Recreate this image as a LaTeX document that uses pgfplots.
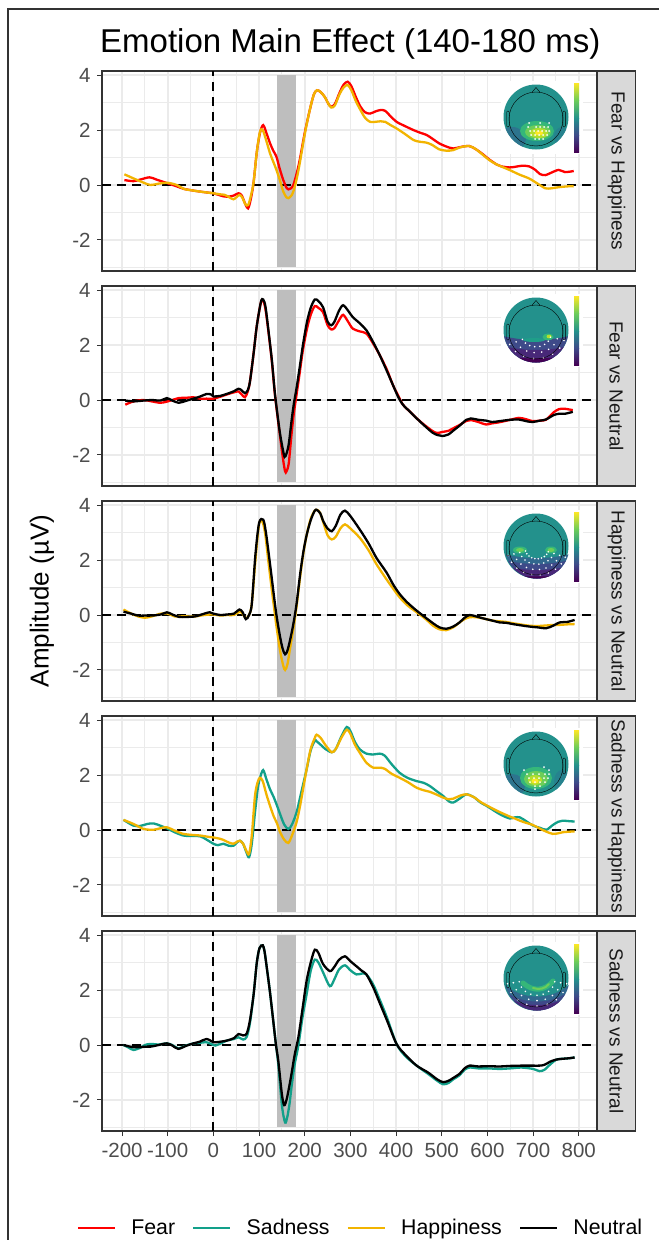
\documentclass[border=0pt]{standalone}
\usepackage{pgfplots}
\pgfplotsset{compat=1.18}
\usepackage{fontspec}
\setmainfont{Liberation Sans}
\definecolor{fearc}{HTML}{FF0000}
\definecolor{sadc}{HTML}{12A08A}
\definecolor{hapc}{HTML}{F2B400}
\definecolor{neuc}{HTML}{000000}
\definecolor{gridc}{HTML}{EBEBEB}
\definecolor{borderc}{HTML}{333333}
\definecolor{tickc}{HTML}{4D4D4D}
\definecolor{stripc}{HTML}{D9D9D9}
\definecolor{stript}{HTML}{1A1A1A}
\definecolor{bandc}{HTML}{BEBEBE}
\definecolor{v0}{HTML}{440154}
\definecolor{v1}{HTML}{482878}
\definecolor{v2}{HTML}{3E4A89}
\definecolor{v3}{HTML}{31688E}
\definecolor{v4}{HTML}{26828E}
\definecolor{vt}{HTML}{23918C}
\definecolor{v5}{HTML}{1F9E89}
\definecolor{v6}{HTML}{35B779}
\definecolor{v7}{HTML}{6DCD59}
\definecolor{v8}{HTML}{B4DE2C}
\definecolor{v9}{HTML}{FDE725}
\pgfplotsset{
  panel/.style={
    width=495bp, height=200bp, scale only axis,
    xmin=-244, xmax=840, ymin=-3.13, ymax=4.15,
    xtick={-200,-100,...,800}, minor xtick={-150,-50,...,750},
    ytick={-2,0,2,4}, minor ytick={-3,-1,1,3},
    yticklabels={-2,0,2,4},
    grid=both,
    major grid style={draw=gridc, line width=1.6bp},
    minor grid style={draw=gridc, line width=1.1bp},
    axis line style={draw=borderc, line width=1.1bp},
    tick style={draw=borderc, line width=1bp},
    major tick length=5bp, minor tick length=0pt,
    tick align=outside, xtick pos=left, ytick pos=left,
    tick label style={font=\fontsize{20.5bp}{24bp}\selectfont, text=tickc},
    yticklabel style={xshift=-3bp},
    xticklabel style={yshift=-4bp},
  },
  upper/.style={xticklabels={}, xmajorticks=false},
  bandline/.style={draw=none, fill=bandc, forget plot},
  zline/.style={black, line width=2bp, dash pattern=on 9bp off 6bp, forget plot},
  curve/.style={line width=2.3bp, smooth, forget plot},
}
\begin{document}
\begin{tikzpicture}
\useasboundingbox (0,0) rectangle (659bp,-1240bp);
\fill[white] (0,0) rectangle (659bp,-1240bp);
\draw[borderc, line width=1.2bp] (8bp,-1245bp) -- (8bp,-9bp) -- (665bp,-9bp);

% ---------- Panel 1: Fear vs Happiness
\begin{axis}[panel, upper, at={(102bp,-271bp)}, anchor=south west]
\addplot[bandline] coordinates {(140,-3) (140,4) (180,4) (180,-3)};
\addplot[zline] coordinates {(-244,0) (840,0)};
\addplot[zline] coordinates {(0,-3.13) (0,4.15)};
\addplot[curve, fearc] coordinates {
(-195,0.18)(-175,0.14)(-160,0.2)(-140,0.28)(-125,0.2)(-100,0.06)(-80,-0.05)(-65,-0.14)(-45,-0.2)(-29,-0.24)(-10,-0.28)(0,-0.3)(15,-0.38)(25,-0.42)(35,-0.42)(45,-0.38)(55,-0.3)(62,-0.38)(70,-0.7)(76,-0.85)(82,-0.5)(88,0.1)(95,1.2)(102,1.9)(109,2.18)(117,1.85)(124,1.52)(131,1.25)(138,1.03)(145,0.6)(153,0.18)(160,-0.1)(164,-0.16)(170,-0.12)(175,0.0)(182,0.4)(189,0.91)(200,1.9)(211,2.73)(220,3.3)(227,3.45)(235,3.38)(244,3.2)(252,2.95)(258,2.85)(266,2.95)(276,3.35)(285,3.65)(294,3.76)(302,3.6)(312,3.2)(322,2.85)(332,2.65)(343,2.6)(355,2.68)(366,2.73)(376,2.7)(388,2.5)(401,2.3)(415,2.18)(438,2.0)(450,1.92)(467,1.82)(480,1.68)(494,1.52)(510,1.4)(525,1.33)(540,1.38)(560,1.42)(575,1.3)(590,1.12)(604,0.93)(620,0.75)(630,0.68)(648,0.64)(660,0.66)(675,0.7)(691,0.68)(705,0.55)(715,0.4)(727,0.36)(740,0.45)(756,0.55)(770,0.47)(789,0.51)};
\addplot[curve, hapc] coordinates {
(-195,0.39)(-175,0.24)(-155,0.1)(-138,0.0)(-120,0.05)(-100,0.08)(-80,0.0)(-65,-0.14)(-45,-0.2)(-29,-0.24)(-10,-0.28)(0,-0.3)(15,-0.34)(25,-0.36)(35,-0.45)(44,-0.52)(50,-0.45)(57,-0.36)(63,-0.45)(70,-0.7)(76,-0.73)(82,-0.4)(88,0.1)(95,1.2)(102,1.94)(108,2.0)(116,1.6)(124,1.15)(131,0.85)(138,0.55)(146,0.15)(153,-0.24)(160,-0.45)(164,-0.48)(170,-0.4)(175,-0.24)(182,0.2)(189,0.79)(200,1.85)(211,2.73)(220,3.3)(227,3.45)(235,3.38)(244,3.2)(252,2.95)(258,2.82)(266,2.9)(276,3.3)(285,3.55)(294,3.64)(302,3.45)(312,3.05)(322,2.73)(332,2.45)(343,2.3)(355,2.3)(366,2.32)(376,2.3)(388,2.18)(401,2.06)(420,1.85)(438,1.64)(450,1.58)(467,1.54)(480,1.45)(494,1.3)(510,1.25)(525,1.27)(540,1.37)(560,1.42)(575,1.3)(590,1.1)(604,0.91)(620,0.75)(648,0.55)(670,0.38)(691,0.24)(710,0.05)(727,-0.12)(740,-0.12)(756,-0.08)(775,-0.05)(789,-0.04)};
\end{axis}

% ---------- Panel 2: Fear vs Neutral
\begin{axis}[panel, upper, at={(102bp,-486bp)}, anchor=south west]
\addplot[bandline] coordinates {(140,-3) (140,4) (180,4) (180,-3)};
\addplot[zline] coordinates {(-244,0) (840,0)};
\addplot[zline] coordinates {(0,-3.13) (0,4.15)};
\addplot[curve, fearc] coordinates {
(-193,-0.17)(-175,-0.05)(-153,0.0)(-135,-0.05)(-116,-0.1)(-100,-0.05)(-76,0.07)(-60,0.08)(-44,0.1)(-30,0.05)(-15,0.05)(0,0.05)(15,0.12)(29,0.2)(45,0.28)(55,0.31)(62,0.2)(69,0.1)(75,0.3)(80,0.67)(88,1.7)(95,2.7)(104,3.55)(109,3.62)(114,3.3)(120,2.55)(128,1.4)(135,0.15)(145,-1.2)(152,-2.1)(157,-2.6)(160,-2.6)(165,-2.3)(171,-1.25)(176,-0.5)(182,0.19)(189,1.0)(196,1.82)(205,2.6)(213,3.1)(222,3.42)(230,3.35)(240,3.2)(250,2.72)(258,2.57)(265,2.62)(275,2.9)(284,3.1)(295,2.85)(305,2.6)(320,2.5)(335,2.42)(350,2.05)(364,1.64)(380,1.1)(393,0.55)(405,0.15)(415,-0.17)(430,-0.42)(444,-0.65)(460,-0.88)(480,-1.13)(490,-1.2)(502,-1.16)(515,-1.12)(524,-1.04)(540,-0.9)(554,-0.76)(564,-0.73)(580,-0.8)(597,-0.89)(610,-0.85)(626,-0.81)(650,-0.72)(669,-0.65)(685,-0.7)(699,-0.77)(715,-0.75)(728,-0.72)(745,-0.45)(757,-0.33)(770,-0.32)(787,-0.37)};
\addplot[curve, neuc] coordinates {
(-193,-0.02)(-175,-0.05)(-153,-0.02)(-135,0.0)(-116,-0.02)(-102,0.07)(-90,-0.02)(-76,-0.1)(-60,-0.03)(-44,0.05)(-30,0.12)(-15,0.22)(-5,0.2)(0,0.13)(15,0.15)(29,0.22)(45,0.32)(55,0.41)(62,0.35)(69,0.25)(75,0.35)(80,0.67)(88,1.7)(95,2.7)(104,3.57)(109,3.66)(114,3.4)(120,2.6)(128,1.45)(135,0.19)(145,-1.13)(152,-1.8)(156,-2.07)(160,-1.95)(165,-1.6)(171,-0.77)(176,-0.15)(182,0.43)(189,1.2)(196,2.0)(205,2.85)(213,3.35)(222,3.66)(230,3.6)(240,3.38)(250,2.85)(258,2.72)(265,2.85)(275,3.25)(284,3.45)(295,3.25)(305,3.02)(320,2.8)(335,2.54)(350,2.1)(364,1.64)(380,1.05)(393,0.55)(405,0.1)(415,-0.17)(430,-0.42)(444,-0.65)(460,-0.9)(480,-1.19)(492,-1.28)(502,-1.31)(515,-1.25)(524,-1.13)(540,-0.92)(554,-0.72)(564,-0.67)(580,-0.72)(597,-0.75)(610,-0.8)(626,-0.77)(650,-0.72)(669,-0.71)(685,-0.77)(699,-0.8)(715,-0.75)(728,-0.71)(745,-0.55)(757,-0.5)(770,-0.5)(787,-0.43)};
\end{axis}

% ---------- Panel 3: Happiness vs Neutral
\begin{axis}[panel, upper, at={(102bp,-701bp)}, anchor=south west]
\addplot[bandline] coordinates {(140,-3) (140,4) (180,4) (180,-3)};
\addplot[zline] coordinates {(-244,0) (840,0)};
\addplot[zline] coordinates {(0,-3.13) (0,4.15)};
\addplot[curve, hapc] coordinates {
(-197,0.2)(-180,0.05)(-165,-0.05)(-150,-0.1)(-135,-0.05)(-115,0.05)(-100,0.05)(-85,-0.05)(-70,-0.05)(-55,-0.05)(-40,-0.05)(-20,0.0)(0,0.02)(15,-0.02)(30,0.0)(45,0.0)(57,0.12)(64,0.05)(71,-0.12)(78,0.0)(84,0.4)(92,2.0)(100,3.3)(107,3.4)(113,3.0)(120,2.0)(128,0.9)(138,-0.4)(146,-1.3)(153,-1.85)(157,-2.0)(162,-1.8)(168,-1.2)(175,-0.5)(182,0.3)(190,1.4)(197,2.25)(204,2.9)(213,3.5)(222,3.8)(228,3.82)(234,3.7)(241,3.35)(250,2.9)(259,2.75)(268,2.85)(278,3.15)(288,3.3)(300,3.15)(321,2.8)(340,2.35)(357,1.85)(379,1.3)(394,0.95)(408,0.64)(425,0.35)(445,0.1)(465,-0.15)(481,-0.39)(495,-0.52)(510,-0.55)(525,-0.45)(539,-0.27)(550,-0.15)(561,-0.08)(575,-0.08)(590,-0.12)(610,-0.2)(627,-0.23)(640,-0.25)(656,-0.3)(675,-0.35)(692,-0.39)(710,-0.4)(729,-0.38)(745,-0.36)(758,-0.36)(775,-0.34)(791,-0.33)};
\addplot[curve, neuc] coordinates {
(-197,0.12)(-180,0.05)(-165,-0.02)(-150,-0.02)(-135,-0.02)(-115,0.02)(-102,0.1)(-90,0.02)(-75,-0.07)(-60,-0.07)(-40,-0.05)(-20,0.05)(-8,0.1)(0,0.05)(15,0.0)(30,0.02)(45,0.05)(57,0.2)(64,0.1)(71,-0.15)(78,0.0)(84,0.4)(92,2.2)(100,3.35)(109,3.47)(115,3.0)(124,1.85)(131,0.9)(138,0.0)(146,-0.8)(152,-1.25)(157,-1.43)(162,-1.3)(168,-0.9)(175,-0.33)(182,0.4)(190,1.5)(197,2.3)(204,2.9)(213,3.45)(222,3.8)(227,3.82)(234,3.7)(241,3.4)(250,3.15)(259,3.05)(268,3.25)(278,3.65)(288,3.8)(300,3.6)(321,3.1)(340,2.6)(357,2.08)(379,1.55)(394,1.1)(408,0.76)(425,0.45)(445,0.16)(465,-0.1)(481,-0.3)(495,-0.45)(510,-0.5)(525,-0.42)(539,-0.27)(550,-0.1)(561,0.0)(575,-0.05)(590,-0.12)(610,-0.2)(627,-0.27)(640,-0.28)(656,-0.33)(675,-0.38)(692,-0.42)(710,-0.45)(729,-0.48)(745,-0.38)(758,-0.27)(775,-0.25)(791,-0.18)};
\end{axis}

% ---------- Panel 4: Sadness vs Happiness
\begin{axis}[panel, upper, at={(102bp,-916bp)}, anchor=south west]
\addplot[bandline] coordinates {(140,-3) (140,4) (180,4) (180,-3)};
\addplot[zline] coordinates {(-244,0) (840,0)};
\addplot[zline] coordinates {(0,-3.13) (0,4.15)};
\addplot[curve, sadc] coordinates {
(-197,0.37)(-175,0.16)(-160,0.15)(-145,0.22)(-131,0.24)(-115,0.15)(-102,0.06)(-85,-0.08)(-66,-0.2)(-50,-0.22)(-29,-0.23)(-15,-0.35)(0,-0.5)(10,-0.55)(22,-0.5)(33,-0.57)(44,-0.57)(52,-0.45)(58,-0.39)(65,-0.5)(72,-0.8)(78,-0.99)(84,-0.5)(91,0.64)(97,1.5)(102,1.9)(109,2.18)(116,1.85)(124,1.48)(132,1.2)(139,0.9)(146,0.58)(155,0.2)(164,0.04)(172,0.2)(182,0.64)(190,1.2)(197,1.7)(204,2.2)(213,2.9)(222,3.25)(226,3.23)(235,3.1)(245,2.95)(259,2.83)(268,2.95)(280,3.4)(292,3.75)(300,3.6)(310,3.2)(321,2.93)(335,2.78)(350,2.75)(364,2.78)(375,2.71)(390,2.4)(408,2.08)(425,1.9)(445,1.78)(460,1.72)(474,1.6)(490,1.4)(503,1.24)(515,1.05)(525,1.0)(540,1.15)(554,1.3)(570,1.2)(585,1.0)(598,0.88)(615,0.7)(630,0.55)(649,0.42)(660,0.46)(671,0.46)(685,0.32)(700,0.16)(715,0.08)(729,0.01)(743,0.18)(755,0.3)(765,0.34)(780,0.32)(791,0.31)};
\addplot[curve, hapc] coordinates {
(-197,0.37)(-175,0.22)(-153,0.04)(-131,0.01)(-115,0.07)(-102,0.1)(-85,-0.02)(-66,-0.14)(-45,-0.18)(-29,-0.2)(-10,-0.25)(0,-0.27)(15,-0.32)(22,-0.36)(33,-0.45)(44,-0.5)(52,-0.42)(58,-0.39)(65,-0.5)(72,-0.75)(78,-0.87)(84,-0.2)(91,1.24)(97,1.75)(102,1.9)(108,1.78)(116,1.3)(124,0.88)(132,0.5)(139,0.25)(146,-0.08)(155,-0.35)(164,-0.47)(172,-0.2)(182,0.28)(190,0.9)(197,1.55)(204,2.2)(213,2.95)(222,3.35)(226,3.47)(235,3.35)(245,3.1)(259,2.83)(268,2.95)(280,3.35)(292,3.65)(300,3.5)(310,3.1)(321,2.8)(335,2.45)(350,2.27)(364,2.27)(375,2.23)(390,2.05)(408,1.9)(425,1.75)(445,1.54)(460,1.45)(474,1.39)(490,1.28)(503,1.18)(515,1.12)(525,1.14)(540,1.25)(554,1.3)(570,1.2)(585,1.02)(598,0.9)(615,0.75)(630,0.63)(649,0.49)(660,0.42)(671,0.34)(685,0.26)(700,0.18)(715,0.05)(729,-0.06)(743,-0.14)(755,-0.12)(765,-0.08)(780,-0.06)(791,-0.05)};
\end{axis}

% ---------- Panel 5: Sadness vs Neutral
\begin{axis}[panel, at={(102bp,-1131bp)}, anchor=south west,
  xticklabels={-200,-100,0,100,200,300,400,500,600,700,800},
  legend columns=4,
  legend style={draw=none, fill=none, at={(0.52,-0.485)}, anchor=center,
    font=\fontsize{21.3bp}{25bp}\selectfont, text=black,
    nodes={inner sep=0pt},
    /tikz/every odd column/.append style={column sep=15bp},
    /tikz/every even column/.append style={column sep=17bp}},
  legend image code/.code={\draw[#1] (0bp,0bp) -- (37bp,0bp);}]
\addlegendimage{fearc, line width=2.6bp}\addlegendentry{Fear}
\addlegendimage{sadc, line width=2.6bp}\addlegendentry{Sadness}
\addlegendimage{hapc, line width=2.6bp}\addlegendentry{Happiness}
\addlegendimage{neuc, line width=2.6bp}\addlegendentry{Neutral}
\addplot[bandline] coordinates {(140,-3) (140,4) (180,4) (180,-3)};
\addplot[zline] coordinates {(-244,0) (840,0)};
\addplot[zline] coordinates {(0,-3.13) (0,4.15)};
\addplot[curve, sadc] coordinates {
(-197,0.0)(-185,-0.1)(-175,-0.18)(-160,-0.1)(-150,0.0)(-138,0.04)(-120,0.02)(-102,0.06)(-90,0.0)(-77,-0.12)(-60,-0.02)(-44,0.06)(-30,0.08)(-15,0.1)(0,0.0)(4,-0.02)(15,0.05)(29,0.16)(45,0.22)(55,0.28)(65,0.2)(73,0.3)(80,0.8)(88,1.84)(95,3.0)(101,3.53)(108,3.63)(112,3.4)(117,2.8)(124,1.9)(131,0.88)(137,0.0)(142,-0.7)(150,-2.2)(157,-2.82)(162,-2.6)(167,-2.1)(171,-1.53)(178,-0.7)(186,-0.02)(195,1.0)(204,1.84)(213,2.7)(222,3.11)(230,3.0)(240,2.65)(255,2.14)(265,2.4)(275,2.75)(288,2.9)(300,2.72)(313,2.57)(325,2.6)(335,2.57)(350,2.2)(364,1.66)(380,1.0)(401,0.04)(420,-0.4)(445,-0.75)(470,-1.05)(490,-1.3)(503,-1.43)(515,-1.38)(525,-1.25)(539,-1.1)(550,-0.9)(561,-0.82)(580,-0.85)(600,-0.85)(627,-0.87)(650,-0.85)(675,-0.82)(700,-0.87)(714,-0.95)(725,-0.9)(738,-0.7)(751,-0.53)(765,-0.5)(780,-0.48)(791,-0.45)};
\addplot[curve, neuc] coordinates {
(-197,0.0)(-185,-0.05)(-175,-0.08)(-160,-0.08)(-150,-0.06)(-138,-0.06)(-120,0.0)(-102,0.06)(-90,-0.02)(-77,-0.14)(-60,-0.03)(-44,0.06)(-30,0.12)(-15,0.22)(0,0.1)(4,0.1)(15,0.12)(29,0.16)(45,0.25)(55,0.4)(65,0.35)(73,0.42)(80,0.9)(88,1.84)(95,3.0)(101,3.53)(108,3.63)(112,3.4)(117,2.8)(124,1.9)(131,0.88)(137,0.0)(142,-0.57)(150,-1.8)(155,-2.19)(160,-2.0)(165,-1.6)(171,-1.05)(178,-0.35)(186,0.28)(195,1.3)(204,2.33)(213,3.0)(222,3.47)(230,3.35)(240,2.95)(255,2.69)(265,2.85)(275,3.1)(288,3.23)(300,3.05)(313,2.87)(325,2.7)(335,2.57)(350,2.1)(364,1.54)(380,0.9)(401,0.04)(420,-0.35)(445,-0.75)(470,-1.0)(490,-1.25)(503,-1.35)(515,-1.3)(525,-1.2)(539,-1.05)(550,-0.85)(561,-0.75)(580,-0.78)(600,-0.77)(627,-0.78)(650,-0.76)(675,-0.75)(700,-0.75)(714,-0.75)(725,-0.72)(738,-0.6)(751,-0.53)(765,-0.5)(780,-0.48)(791,-0.45)};
\end{axis}

% ---------- decorations in pixel coordinates (y down)
\begin{scope}[x=1bp, y=-1bp]
\node[anchor=base west, font=\fontsize{33bp}{39bp}\selectfont, inner sep=0pt] at (100,52) {Emotion Main Effect (140-180 ms)};
\node[rotate=90, font=\fontsize{26bp}{30bp}\selectfont, inner sep=0pt] at (42,601) {Amplitude (µV)};
\foreach \T/\lab in {71/Fear vs Happiness, 286/Fear vs Neutral, 501/Happiness vs Neutral, 716/Sadness vs Happiness, 931/Sadness vs Neutral}{
  \filldraw[fill=stripc, draw=borderc, line width=1.1bp] (597,\T) rectangle (635.5,\T+200);
  \node[rotate=-90, font=\fontsize{19bp}{22bp}\selectfont, text=stript, inner sep=0pt] at (616.5,\T+100) {\lab};
}
\foreach \T/\cy in {71/46, 286/44, 501/45, 716/48, 931/47}{
  \begin{scope}[shift={(536,\T+\cy)}]
    \fill[white] (-35,-36) rectangle (47,37);
    \fill[vt] (0,0) circle (32.5);
    \shade[bottom color=v0, top color=v2] (38,35) rectangle (43,18);
    \shade[bottom color=v2, top color=vt] (38,18.2) rectangle (43,1);
    \shade[bottom color=vt, top color=v7] (38,1.2) rectangle (43,-17);
    \shade[bottom color=v7, top color=v9] (38,-16.8) rectangle (43,-34);
  \end{scope}
}
% --- panel 1 topomap
\begin{scope}[shift={(536,117)}]
  \begin{scope}\clip (0,0) circle (32.5);
    \fill[v3!70!vt] (-24,22) ellipse (14 and 12);
    \fill[v4] (26,20) ellipse (8 and 10);
    \fill[v6] (1,14) ellipse (17 and 10);
    \fill[v7] (2,15) ellipse (13 and 7);
    \fill[v8] (3,16) ellipse (9 and 5);
    \fill[v9] (3,16) ellipse (4 and 2.5);
  \end{scope}
  \foreach \x/\y in {-7/6,4/6,13/6,-8/10,0/10,4/10,8/10,12/10,-6/14,-2/14,2/14,6/14,10/14,13/14,-5/18,-1/18,3/18,7/18,11/18,-1/22,3/22,7/22}{\fill[white] (\x,\y) circle (1);}
\end{scope}
% --- panel 4 topomap
\begin{scope}[shift={(536,764)}]
  \begin{scope}\clip (0,0) circle (32.5);
    \fill[v3!70!vt] (-24,22) ellipse (13 and 12);
    \fill[v4] (26,18) ellipse (8 and 12);
    \fill[v6] (0,14) ellipse (16 and 11);
    \fill[v7] (0,15) ellipse (12 and 8);
    \fill[v8] (-1,16) ellipse (7 and 5);
    \fill[v9] (-1,17) ellipse (3.5 and 2.5);
  \end{scope}
  \foreach \x/\y in {-12/6,8/3,13/6,-9/10,-3/10,3/10,9/10,13/10,-7/14,-2/14,3/14,8/14,12/14,-6/18,-1/18,4/18,9/18,-1/22,4/22,-1/25}{\fill[white] (\x,\y) circle (1);}
\end{scope}
% --- panel 2 topomap
\begin{scope}[shift={(536,330)}]
  \begin{scope}\clip (0,0) circle (32.5);
    \fill[v2] (-40,4) .. controls (-15,12) and (15,12) .. (40,4) -- (40,40) -- (-40,40) -- cycle;
    \fill[v1] (-40,14) .. controls (-15,22) and (15,22) .. (40,14) -- (40,40) -- (-40,40) -- cycle;
    \fill[v0] (-40,24) .. controls (-15,30) and (15,30) .. (40,24) -- (40,40) -- (-40,40) -- cycle;
    \fill[v5] (-2,10) ellipse (11 and 2);
    \fill[v6] (12,7) ellipse (5.5 and 3.5);
    \fill[v8] (13,6.5) ellipse (2.5 and 1.8);
  \end{scope}
  \foreach \r in {29,22,15}{\foreach \a in {15,35,...,165}{\fill[white] ({\r*cos(\a)},{4+\r*sin(\a)*0.85}) circle (0.9);}}
\end{scope}
% --- panel 3 topomap
\begin{scope}[shift={(537,546)}]
  \begin{scope}\clip (0,0) circle (32.5);
    \fill[v3] (-40,6) .. controls (-15,14) and (15,14) .. (40,6) -- (40,40) -- (-40,40) -- cycle;
    \fill[v2] (-40,12) .. controls (-15,20) and (15,20) .. (40,12) -- (40,40) -- (-40,40) -- cycle;
    \fill[v1] (-40,18) .. controls (-15,26) and (15,26) .. (40,18) -- (40,40) -- (-40,40) -- cycle;
    \fill[v0] (-40,26) .. controls (-15,32) and (15,32) .. (40,26) -- (40,40) -- (-40,40) -- cycle;
    \fill[v6] (-17,4) ellipse (7 and 3.5);
    \fill[v7] (-17,4) ellipse (4 and 2);
    \fill[v6] (14,4) ellipse (6 and 3.5);
    \fill[v7] (14,4) ellipse (3.5 and 2);
  \end{scope}
  \foreach \r in {30,24,18,12}{\foreach \a in {20,36,...,164}{\fill[white] ({\r*cos(\a)},{2+\r*sin(\a)*0.9}) circle (0.9);}}
\end{scope}
% --- panel 5 topomap
\begin{scope}[shift={(537,978)}]
  \begin{scope}\clip (0,0) circle (32.5);
    \fill[v3] (-40,-4) .. controls (-25,26) and (25,26) .. (40,-4) -- (40,40) -- (-40,40) -- cycle;
    \fill[v2] (-40,4) .. controls (-25,30) and (25,30) .. (40,4) -- (40,40) -- (-40,40) -- cycle;
    \fill[v1] (-40,12) .. controls (-20,32) and (20,32) .. (40,12) -- (40,40) -- (-40,40) -- cycle;
    \fill[v0] (-40,22) .. controls (-15,36) and (15,36) .. (40,22) -- (40,40) -- (-40,40) -- cycle;
    \draw[v6, line width=5bp, line cap=round] (-14,5) .. controls (-4,14) and (8,13) .. (16,3);
    \draw[v7, line width=2bp, line cap=round] (-4,10) .. controls (2,12) and (8,11) .. (12,6);
  \end{scope}
  \foreach \r in {30,24,18}{\foreach \a in {10,30,...,170}{\fill[white] ({\r*cos(\a)},{1+\r*sin(\a)*0.9}) circle (0.9);}}
\end{scope}
\foreach \T/\cy in {71/46, 286/44, 501/45, 716/48, 931/47}{
  \begin{scope}[shift={(536,\T+\cy)}]
    \draw[black, line width=0.4bp] (0,2) circle (27);
    \draw[black, line width=0.4bp] (-4,-24.6) -- (0,-29.5) -- (4,-24.6);
    \draw[black, line width=0.4bp, rounded corners=1] (-26.8,-6) rectangle (-29.3,10);
    \draw[black, line width=0.4bp, rounded corners=1] (26.8,-6) rectangle (29.3,10);
  \end{scope}
}
\end{scope}
\end{tikzpicture}
\end{document}
